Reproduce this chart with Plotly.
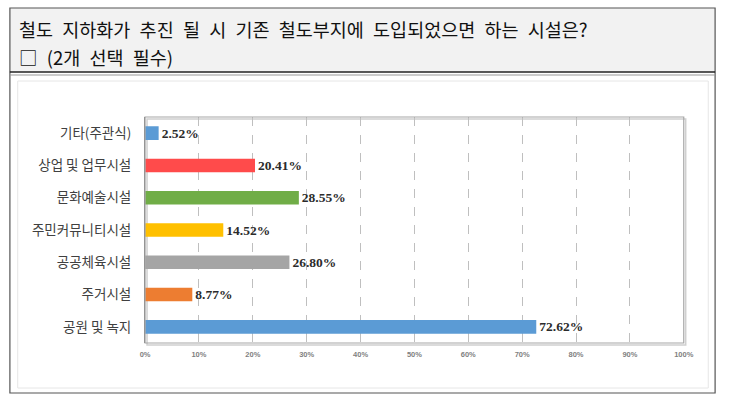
import plotly.graph_objects as go

categories = ["공원 및 녹지", "주거시설", "공공체육시설", "주민커뮤니티시설", "문화예술시설", "상업 및 업무시설", "기타(주관식)"]
values = [72.62, 8.77, 26.80, 14.52, 28.55, 20.41, 2.52]
colors = ["#5b9bd5", "#ed7d31", "#a5a5a5", "#ffc000", "#70ad47", "#ff4b4b", "#5b9bd5"]
tick_vals = list(range(0, 101, 10))
tick_text = [f"{v}%" for v in tick_vals]
title_line1 = "철도 지하화가 추진 될 시 기존 철도부지에 도입되었으면 하는 시설은?"
title_line2 = "□ (2개 선택 필수)"

W, H = 730, 400
def px(x): return x / W
def py(y): return 1 - y / H

fig = go.Figure()
fig.add_trace(go.Bar(
    y=categories, x=values, orientation="h",
    marker=dict(color=colors, line=dict(width=0)),
    width=0.42,
    text=[f"{v:.2f}%" for v in values],
    textposition="outside",
    constraintext="none",
    textfont=dict(family="Liberation Serif", size=13.5, color="#2b2b2b", weight="bold"),
    cliponaxis=False,
    hoverinfo="skip",
))

shapes = []
shapes.append(dict(type="rect", xref="paper", yref="paper", x0=px(5), x1=px(725), y0=py(72), y1=py(8),
                   fillcolor="#f2f2f2", line=dict(width=0), layer="below"))
shapes.append(dict(type="rect", xref="paper", yref="paper", x0=px(5), x1=px(725), y0=py(393), y1=py(8),
                   line=dict(color="#555555", width=1.2), fillcolor="rgba(0,0,0,0)"))
shapes.append(dict(type="line", xref="paper", yref="paper", x0=px(5), x1=px(725), y0=py(72), y1=py(72),
                   line=dict(color="#222222", width=1.5)))
shapes.append(dict(type="line", xref="paper", yref="paper", x0=px(5), x1=px(725), y0=py(75), y1=py(75),
                   line=dict(color="#999999", width=1)))
shapes.append(dict(type="rect", xref="paper", yref="paper", x0=px(13), x1=px(718), y0=py(388), y1=py(81),
                   line=dict(color="#e6e6e6", width=1), fillcolor="rgba(0,0,0,0)"))
shapes.append(dict(type="rect", xref="paper", yref="paper", x0=px(145), x1=px(695), y0=py(345), y1=py(119),
                   line=dict(color="#d0d0d0", width=1.5), fillcolor="rgba(0,0,0,0)", layer="below"))
shapes.append(dict(type="rect", xref="paper", yref="paper", x0=px(143), x1=px(693), y0=py(343), y1=py(117),
                   line=dict(color="#a6a6a6", width=1.2), fillcolor="rgba(0,0,0,0)"))

wide = lambda s: s.replace(" ", "\u2002")
annotations = [
    dict(text=wide(title_line1), xref="paper", yref="paper", x=px(12), y=py(29), xanchor="left", yanchor="middle",
         showarrow=False, font=dict(family="Noto Sans CJK KR", size=18.5, color="#111111")),
    dict(text=wide(title_line2), xref="paper", yref="paper", x=px(12), y=py(57), xanchor="left", yanchor="middle",
         showarrow=False, font=dict(family="Noto Sans CJK KR", size=18.5, color="#111111")),
]

fig.update_layout(
    width=W, height=H,
    margin=dict(l=0, r=0, t=0, b=0),
    paper_bgcolor="white", plot_bgcolor="white",
    showlegend=False,
    shapes=shapes, annotations=annotations,
    xaxis=dict(domain=[px(143), px(693)], range=[0, 100], tickvals=tick_vals, ticktext=tick_text,
               showgrid=True, gridcolor="#bfbfbf", griddash="dash", gridwidth=1,
               zeroline=False, showline=False, ticks="", ticklabelstandoff=5,
               tickfont=dict(family="Liberation Sans", size=7.5, color="#7f7f7f", weight="bold"), fixedrange=True),
    yaxis=dict(domain=[py(343), py(117)], range=[-0.5, 6.5], showgrid=False, zeroline=False,
               showline=True, linecolor="#7f7f7f", linewidth=1.2, ticks="", ticklabelstandoff=10,
               tickfont=dict(family="Noto Sans CJK KR", size=13.5, color="#404040")),
)

fig.write_html("out.html")
